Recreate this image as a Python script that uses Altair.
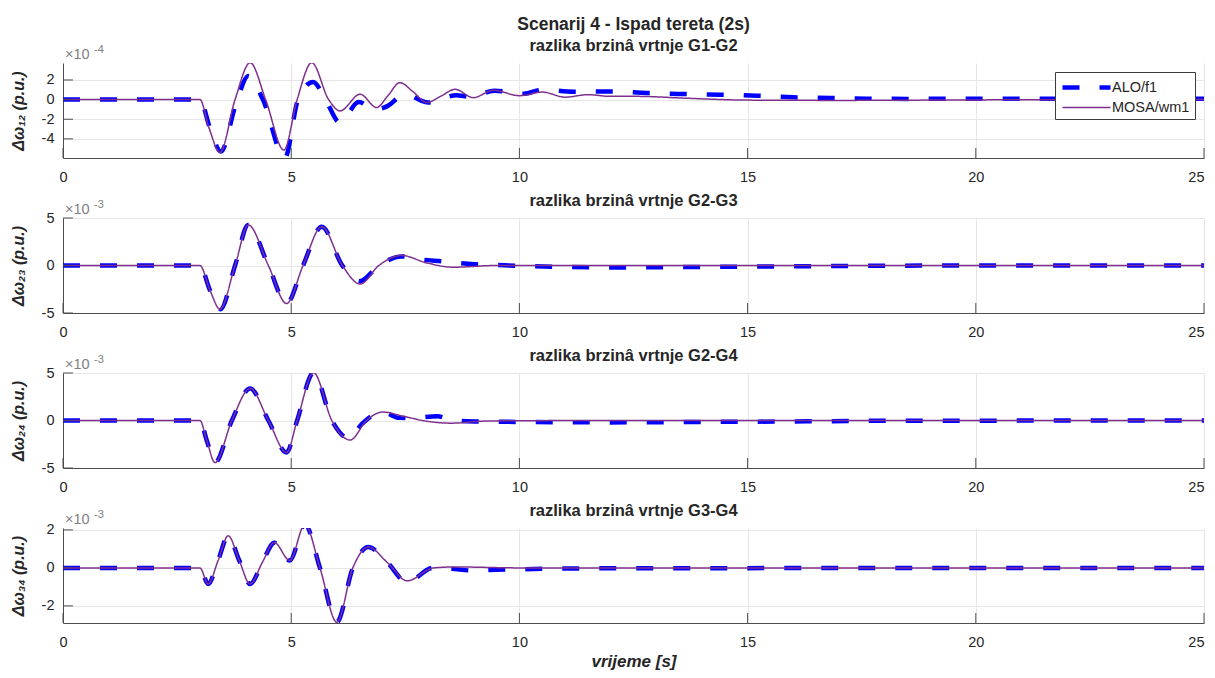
import altair as alt
import pandas as pd

FONT = "Liberation Sans"
MAIN_TITLE = "Scenarij 4 - Ispad tereta (2s)"
PANEL_TITLES = ["razlika brzinâ vrtnje G1-G2", "razlika brzinâ vrtnje G2-G3",
                "razlika brzinâ vrtnje G2-G4", "razlika brzinâ vrtnje G3-G4"]
Y_TITLES = ["Δω₁₂ (p.u.)", "Δω₂₃ (p.u.)", "Δω₂₄ (p.u.)", "Δω₃₄ (p.u.)"]
EXPONENTS = ["-4", "-3", "-3", "-3"]
X_TITLE = "vrijeme [s]"
SERIES = ["ALO/f1", "MOSA/wm1"]
X_TICKS = [0, 5, 10, 15, 20, 25]
Y_DOMAINS = [[-5.95, 3.73], [-5, 5], [-5, 5], [-2.9, 2.1]]
Y_TICKS = [[-4, -2, 0, 2], [-5, 0, 5], [-5, 0, 5], [-2, 0, 2]]

# Panel 1 (x1e-4)
P1_MOSA_T = [0, 3.0, 3.2, 3.44, 3.77, 4.10, 4.44, 4.84, 5.13, 5.45, 5.82, 6.07, 6.51, 6.87, 7.12, 7.38,
             7.67, 7.97, 8.28, 8.59, 8.99, 9.43, 10.0, 10.5, 11.0, 11.5, 12.0, 12.6, 13.6, 15.0, 17.0, 20.0, 25.0]
P1_MOSA_V = [0, 0, -2.9, -5.38, 0, 3.76, 0, -5.14, 0, 3.76, 0, -1.15, 0.55, -0.8, 0.4, 1.73,
             0.8, -0.3, 0.35, 1.05, 0.2, 0.95, 0.4, 0.77, 0.25, 0.5, 0.33, 0.33, 0.15, -0.05, -0.08, -0.03, 0]
P1_ALO_T = [0, 3.0, 3.22, 3.46, 3.78, 4.06, 4.38, 4.86, 5.15, 5.48, 5.75, 6.07, 6.48, 6.82, 7.12, 7.42,
            7.58, 7.82, 8.0, 8.19, 8.62, 8.92, 9.45, 10.1, 10.5, 11.2, 12.0, 12.8, 13.6, 14.4, 15.2, 16.0,
            16.8, 17.6, 18.5, 20.0, 25.0]
P1_ALO_V = [0, 0, -2.9, -5.3, -0.6, 2.4, 0, -5.95, 0, 1.8, 0, -2.35, -0.25, -1.0, -0.64, 0.38,
            0.45, -0.06, -0.3, -0.1, 0.45, 0.27, 0.9, 0.6, 1.0, 0.8, 0.83, 0.67, 0.57, 0.5, 0.4, 0.23,
            0.17, 0.1, 0.07, 0.1, 0.1]

# Panel 2 (x1e-3)
P2_MOSA_T = [0, 3.0, 3.22, 3.44, 3.77, 4.06, 4.50, 4.90, 5.26, 5.67, 6.12, 6.51, 6.92, 7.42, 7.95, 8.55, 9.5, 12, 25]
P2_MOSA_V = [0, 0, -2.6, -4.6, 0, 4.26, 0, -4.0, 0, 4.08, 0, -1.95, 0, 1.06, 0.3, -0.18, 0.0, 0, 0]
P2_ALO_T = [0, 3.0, 3.22, 3.45, 3.77, 4.06, 4.50, 4.90, 5.26, 5.67, 6.12, 6.50, 6.92, 7.42, 7.9, 8.3, 8.8,
            9.5, 11, 12, 14, 17, 20, 25]
P2_ALO_V = [0, 0, -2.6, -4.6, 0, 4.26, 0, -4.0, 0, 4.08, 0, -1.65, 0, 0.95, 0.6, 0.45, 0.2,
            0.05, -0.15, -0.2, -0.15, -0.05, 0, 0]

# Panel 3 (x1e-3)
P3_MOSA_T = [0, 3.0, 3.15, 3.33, 3.70, 4.10, 4.50, 4.90, 5.13, 5.49, 5.89, 6.29, 6.65, 7.0, 7.5, 7.96, 8.5, 9.3, 12, 25]
P3_MOSA_V = [0, 0, -2.1, -4.43, 0, 3.37, 0, -3.37, 0, 5.03, 0, -2.06, 0, 0.89, 0.4, -0.07, -0.28, -0.05, 0, 0]
P3_ALO_T = [0, 3.0, 3.15, 3.33, 3.70, 4.10, 4.50, 4.90, 5.13, 5.49, 5.89, 6.27, 6.55, 7.0, 7.36, 7.65, 8.2,
            8.55, 9.0, 10, 12, 14, 16, 18, 25]
P3_ALO_V = [0, 0, -2.1, -4.43, 0, 3.37, 0, -3.37, 0, 5.03, 0, -1.9, -0.35, 0.89, 0.28, 0.25, 0.45,
            0.0, -0.1, -0.15, -0.2, -0.15, -0.1, -0.03, 0]

# Panel 4 (x1e-3)
P4_MOSA_T = [0, 3.0, 3.18, 3.40, 3.62, 3.86, 4.10, 4.37, 4.63, 4.97, 5.30, 5.63, 6.0, 6.35, 6.69, 7.1,
             7.54, 8.12, 8.6, 10, 25]
P4_MOSA_V = [0, 0, -0.85, 0.4, 1.69, 0.4, -0.85, 0.3, 1.33, 0.39, 2.29, 0, -2.86, 0, 1.1, 0.3,
             -0.68, 0, 0.05, 0, 0]
P4_ALO_T = [0, 3.0, 3.18, 3.40, 3.62, 3.86, 4.10, 4.37, 4.63, 4.97, 5.30, 5.63, 6.0, 6.35, 6.69, 7.1,
            7.54, 8.1, 8.5, 9.0, 9.5, 10.5, 12, 25]
P4_ALO_V = [0, 0, -0.85, 0.4, 1.69, 0.4, -0.85, 0.3, 1.33, 0.39, 2.29, 0, -2.86, 0, 1.1, 0.3,
            -0.76, 0, -0.05, -0.14, -0.1, -0.05, -0.02, 0]

CURVES = [
    (P1_ALO_T, P1_ALO_V, P1_MOSA_T, P1_MOSA_V),
    (P2_ALO_T, P2_ALO_V, P2_MOSA_T, P2_MOSA_V),
    (P3_ALO_T, P3_ALO_V, P3_MOSA_T, P3_MOSA_V),
    (P4_ALO_T, P4_ALO_V, P4_MOSA_T, P4_MOSA_V),
]

W = 1141
H = 95
AX = "#4d4d4d"
TXT = "#262626"


def panel(i):
    at, av, mt, mv = CURVES[i]
    df = pd.concat([
        pd.DataFrame({"t": at, "v": av, "series": SERIES[0]}),
        pd.DataFrame({"t": mt, "v": mv, "series": SERIES[1]}),
    ])
    last = i == 3
    x_axis = alt.Axis(values=X_TICKS, title=X_TITLE if last else None, grid=True, ticks=False, tickSize=0,
                      labelPadding=12, titlePadding=5, titleFontStyle="italic", titleFontWeight="bold",
                      titleFontSize=17,
                      labelAlign={"condition": {"test": "datum.value == 25", "value": "right"}, "value": "center"})
    y_axis = alt.Axis(values=Y_TICKS[i], title=Y_TITLES[i], grid=True, ticks=False, tickSize=0,
                      labelPadding=9, titlePadding=15, titleFontSize=16,
                      labelExpr="datum.value < 0 ? '-' + abs(datum.value) : '' + datum.value")
    xs = alt.Scale(domain=[0, 25], nice=False, zero=False)
    ys = alt.Scale(domain=Y_DOMAINS[i], nice=False, zero=False)
    if i == 0:
        leg = alt.Legend(title=None, orient="top-right", offset=9, fillColor="white", strokeColor="#3c3c3c",
                         padding=5, symbolType="M-3,0H3", symbolSize=256, symbolOffset=16,
                         labelFontSize=14.5, labelFont=FONT, labelColor=TXT, rowPadding=1.5, labelOffset=15)
    else:
        leg = None
    lines = alt.Chart(df).mark_line(interpolate="monotone", clip=True, strokeCap="butt").encode(
        x=alt.X("t:Q", scale=xs, axis=x_axis),
        y=alt.Y("v:Q", scale=ys, axis=y_axis),
        color=alt.Color("series:N", scale=alt.Scale(domain=SERIES, range=["#0000FF", "#7E2F8E"]), legend=leg),
        strokeDash=alt.StrokeDash("series:N", scale=alt.Scale(domain=SERIES, range=[[17, 20], [1, 0]]), legend=leg),
        strokeWidth=alt.StrokeWidth("series:N", scale=alt.Scale(domain=SERIES, range=[4.5, 1.5]), legend=leg),
    )
    xt = alt.Chart(pd.DataFrame({"t": X_TICKS})).mark_rule(color=AX, strokeWidth=1).encode(
        x=alt.X("t:Q", scale=xs, axis=x_axis), y=alt.value(H), y2=alt.value(H - 10))
    yt = alt.Chart(pd.DataFrame({"v": Y_TICKS[i]})).mark_rule(color=AX, strokeWidth=1).encode(
        y=alt.Y("v:Q", scale=ys, axis=y_axis), x=alt.value(0), x2=alt.value(10))
    title = alt.Chart(pd.DataFrame({"label": [PANEL_TITLES[i]]})).mark_text(
        font=FONT, fontSize=16.5, fontWeight="bold", color=TXT, align="center", baseline="alphabetic").encode(
        x=alt.value(W / 2), y=alt.value(-12), text="label:N")
    x10 = alt.Chart(pd.DataFrame({"label": ["×10"]})).mark_text(
        font=FONT, fontSize=14.5, color="#808080", align="left", baseline="alphabetic").encode(
        x=alt.value(2), y=alt.value(-4), text="label:N")
    expo = alt.Chart(pd.DataFrame({"label": [EXPONENTS[i]]})).mark_text(
        font=FONT, fontSize=11, color="#808080", align="left", baseline="alphabetic").encode(
        x=alt.value(31), y=alt.value(-10), text="label:N")
    layers = [lines, xt, yt, title, x10, expo]
    if i == 0:
        mt_ = alt.Chart(pd.DataFrame({"label": [MAIN_TITLE]})).mark_text(
            font=FONT, fontSize=17.5, fontWeight="bold", color=TXT, align="center", baseline="alphabetic").encode(
            x=alt.value(W / 2), y=alt.value(-33), text="label:N")
        layers.append(mt_)
    return alt.layer(*layers).properties(width=W, height=H)


chart = alt.vconcat(*[panel(i) for i in range(4)], spacing=9).resolve_scale(
    x="independent", y="independent", color="independent", strokeDash="independent", strokeWidth="independent"
).resolve_legend(
    color="independent", strokeDash="independent", strokeWidth="independent"
).properties(
    padding={"left": 2, "top": 8, "right": 0, "bottom": 0}
).configure_view(stroke=None).configure_axis(
    domainColor=AX, labelColor=TXT, labelFont=FONT, labelFontSize=14.5, titleFont=FONT, titleColor=TXT,
    titleFontWeight="bold", titleFontStyle="italic", gridColor="#e6e6e6"
)

chart.save("out.html", embed_options={"renderer": "svg", "actions": False})
